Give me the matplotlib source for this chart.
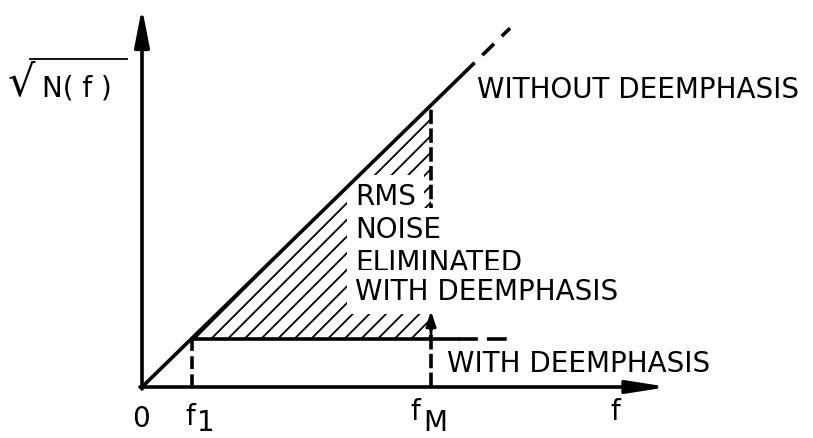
import matplotlib
matplotlib.use("Agg")
import matplotlib.pyplot as plt
import numpy as np

# Diagram values (units: horizontal = frequency, vertical = sqrt(N(f)))
slope = 0.975            # sqrt(N(f)) grows linearly with f without deemphasis
f1 = 50                  # corner frequency f1
fM = 289                 # maximum frequency fM
diag_solid_end = 321     # where the solid "without deemphasis" line becomes dashed
diag_dash_end = 368
level = 48               # flat level with deemphasis
flat_solid_end = 316
flat_dash_end = 371
x_axis_end = 526
y_axis_end = 379

fig = plt.figure(figsize=(8.13, 4.38), dpi=100)
ax = fig.add_axes([0, 0, 1, 1])
ax.set_xlim(-142, 671)
ax.set_ylim(-51, 387)
ax.axis('off')

LW = 2.6
FS = 20

# Axes with arrows
ax.annotate('', xy=(x_axis_end, 0), xytext=(-2, 0),
            arrowprops=dict(arrowstyle='-|>,head_length=2.4,head_width=0.38',
                            lw=LW, color='k', shrinkA=0, shrinkB=0))
ax.annotate('', xy=(0, y_axis_end), xytext=(0, -2),
            arrowprops=dict(arrowstyle='-|>,head_length=2.3,head_width=0.45',
                            lw=LW, color='k', shrinkA=0, shrinkB=0))

# Without deemphasis: linear line, solid then dashed
xs = np.array([0, diag_solid_end])
ax.plot(xs, slope * xs, color='k', lw=LW, solid_capstyle='butt', zorder=6)
xd = np.array([diag_solid_end, diag_dash_end])
ax.plot(xd, slope * xd, color='k', lw=LW, dashes=(4.5, 3.0), zorder=6)

# With deemphasis: flat line from f1
ax.plot([f1, flat_solid_end], [level, level], color='k', lw=LW, zorder=6)
ax.plot([flat_solid_end, flat_dash_end], [level, level], color='k', lw=LW,
        dashes=(5.5, 2.5), zorder=6)

# Dashed verticals at f1 and fM
ax.plot([f1, f1], [0, level], color='k', lw=LW, dashes=(3.5, 1.5), zorder=2)
ax.plot([fM, fM], [0, slope * fM], color='k', lw=LW, dashes=(4, 1.2), zorder=2)

# Hatched area: RMS noise eliminated
fx = np.linspace(f1, fM, 50)
plt.rcParams['hatch.linewidth'] = 1.3
ax.fill_between(fx, level, slope * fx, facecolor='none', edgecolor='k',
                hatch='//', lw=0, zorder=1)

# Small up-arrow at fM
ax.annotate('', xy=(fM, 76), xytext=(fM, level),
            arrowprops=dict(arrowstyle='-|>,head_length=0.9,head_width=0.3',
                            lw=2.0, color='k', shrinkA=0, shrinkB=0), zorder=4)

# Texts
box = dict(boxstyle='square,pad=0.3', facecolor='white', edgecolor='none')
ax.text(335, 289, 'WITHOUT DEEMPHASIS', fontsize=FS, va='baseline', ha='left')
for s, yb in [('RMS', 182), ('NOISE', 149), ('ELIMINATED', 116), ('WITH DEEMPHASIS', 87)]:
    ax.text(213, yb, s, fontsize=FS, va='baseline', ha='left', bbox=box, zorder=5)
ax.text(305, 15, 'WITH DEEMPHASIS', fontsize=FS, va='baseline', ha='left', zorder=5)

# Axis labels
ax.text(-1, -40, '0', fontsize=FS, va='baseline', ha='center')
ax.text(43, -38, 'f', fontsize=FS, va='baseline', ha='left')
ax.text(55, -44, '1', fontsize=FS, va='baseline', ha='left')
ax.text(268, -33, 'f', fontsize=FS, va='baseline', ha='left')
ax.text(281, -44, 'M', fontsize=FS, va='baseline', ha='left')
ax.text(468, -33, 'f', fontsize=FS, va='baseline', ha='left')

ax.text(-134, 292, '√', fontsize=31, va='baseline', ha='left')
ax.text(-100, 290, 'N( f )', fontsize=FS, va='baseline', ha='left')
ax.plot([-112, -15], [328, 328], color='k', lw=1.3)

fig.savefig('out.png', dpi=100)
